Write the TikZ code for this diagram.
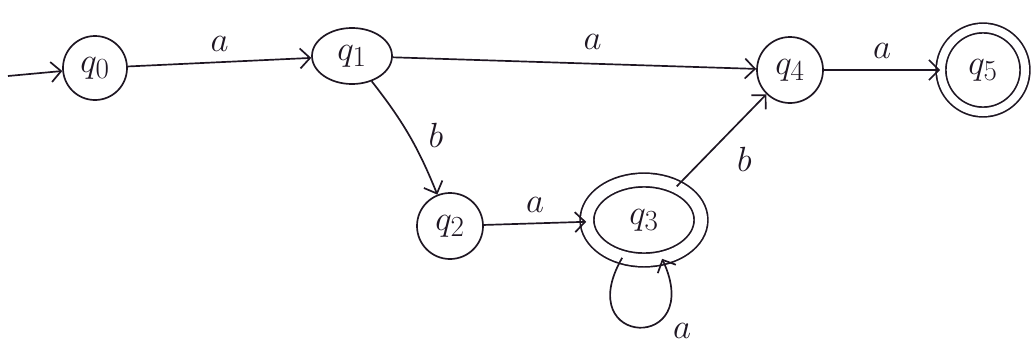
\documentclass[tikz,border=0pt]{standalone}
\usepackage{tikz}
\usetikzlibrary{arrows.meta,shapes.geometric}
\definecolor{Ink}{HTML}{1E1622}

\begin{document}
\begin{tikzpicture}[
    x=0.025cm, y=-0.025cm,
    state/.style={draw=Ink, circle, line width=1.2pt, minimum size=1.65cm, inner sep=0pt, text=Ink, font=\fontsize{28}{28}\selectfont},
    accept/.style={state, double=white, double distance=0.3cm},
    trans/.style={draw=Ink, line width=1.2pt, -{Straight Barb[length=2.5mm,width=5mm]}},
    sym/.style={text=Ink, font=\fontsize{32}{32}\selectfont}
  ]
    \useasboundingbox (0,0) rectangle (1034,363);

    \node[state, minimum size=1.6cm] (q0) at (95,68) {$q_0$};
    \node[state, ellipse, minimum width=2cm, minimum height=1.4cm] (q1) at (352,56) {$q_1$};
    \node[state] (q2) at (450,226) {$q_2$};
    \node[accept, ellipse, minimum width=2.85cm, minimum height=2cm, double distance=0.3cm] (q3) at (644,220) {$q_3$};
    \node[state] (q4) at (790,70) {$q_4$};
    \node[accept, minimum size=2.1cm, double distance=0.2cm] (q5) at (983,70) {$q_5$};
    \coordinate (start) at (8,76);

    \draw[trans] (start) -- (q0);
    \draw[trans] (q0) -- node[sym, above=4pt] (l01) {$a$} (q1);
    \draw[trans] (q1) -- node[sym, above=6pt, pos=0.55] (l14) {$a$} (q4);
    \draw[trans] (q4) -- node[sym, above=4pt] (l45) {$a$} (q5);
    \draw[trans] (q1) to[bend left=8] node[sym, right=10pt] (l12) {$b$} (q2);
    \draw[trans] (q2) -- node[sym, above=4pt] (l23) {$a$} (q3);
    \draw[trans] (q3) -- node[sym, pos=0.55, below right=4pt] (l34) {$b$} (q4);
    \draw[trans] (q3) to[out=240, in=295, min distance=2.6cm] node[sym, pos=0.72, below right=2pt] (l33) {$a$} (q3);
  \end{tikzpicture}
\end{document}
